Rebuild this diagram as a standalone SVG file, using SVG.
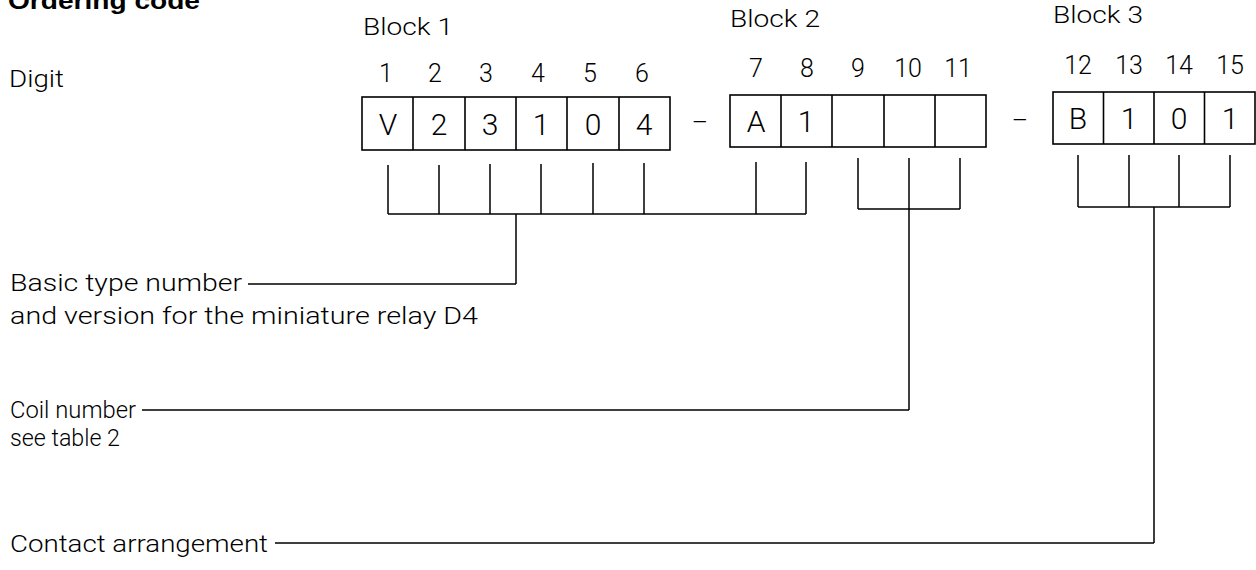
<svg xmlns="http://www.w3.org/2000/svg" width="1256" height="570" viewBox="0 0 1256 570">
<style>
.t{font-family:Roboto,"Liberation Sans",Arial,sans-serif;font-weight:300;font-size:24px;fill:#000}
.b{font-family:"Liberation Sans",Arial,sans-serif;font-weight:bold}
.d{font-size:25px;text-anchor:middle}
.c{font-size:30px;text-anchor:middle}
.box{fill:none;stroke:#000;stroke-width:1.6}
.ln{fill:none;stroke:#000;stroke-width:1.5}
</style>
<rect width="1256" height="570" fill="#fff"/>
<g id="title"><text class="t b" x="8" y="9" textLength="192" lengthAdjust="spacingAndGlyphs">Ordering code</text></g>
<g id="digit-label"><text class="t" x="9" y="87" textLength="55" lengthAdjust="spacingAndGlyphs">Digit</text></g>
<g id="block1">
<text class="t" x="363" y="35" textLength="90" lengthAdjust="spacingAndGlyphs">Block 1</text>
<text class="t d" x="386" y="82">1</text><text class="t d" x="435" y="82">2</text><text class="t d" x="486" y="82">3</text><text class="t d" x="538" y="82">4</text><text class="t d" x="590" y="82">5</text><text class="t d" x="642" y="82">6</text>
<rect class="box" x="362" y="97" width="308" height="53"/>
<path class="box" d="M413,97V150M465,97V150M516,97V150M567,97V150M619,97V150"/>
<text class="t c" x="388" y="135">V</text><text class="t c" x="439" y="135">2</text><text class="t c" x="490" y="135">3</text><text class="t c" x="541" y="135">1</text><text class="t c" x="593" y="135">0</text><text class="t c" x="644" y="135">4</text>
</g>
<g id="dash1"><text class="t d" x="700" y="131">–</text></g>
<g id="block2">
<text class="t" x="730" y="27" textLength="90" lengthAdjust="spacingAndGlyphs">Block 2</text>
<text class="t d" x="756" y="77">7</text><text class="t d" x="807" y="77">8</text><text class="t d" x="858" y="77">9</text><text class="t d" x="908" y="77">10</text><text class="t d" x="958" y="77">11</text>
<rect class="box" x="730" y="95" width="256" height="52"/>
<path class="box" d="M781,95V147M832,95V147M884,95V147M935,95V147"/>
<text class="t c" x="756" y="132">A</text><text class="t c" x="806" y="132">1</text>
</g>
<g id="dash2"><text class="t d" x="1020" y="129">–</text></g>
<g id="block3">
<text class="t" x="1053" y="23" textLength="90" lengthAdjust="spacingAndGlyphs">Block 3</text>
<text class="t d" x="1078" y="74">12</text><text class="t d" x="1129" y="74">13</text><text class="t d" x="1179" y="74">14</text><text class="t d" x="1230" y="74">15</text>
<rect class="box" x="1053" y="92" width="202" height="52"/>
<path class="box" d="M1103.5,92V144M1154,92V144M1204.5,92V144"/>
<text class="t c" x="1078" y="129">B</text><text class="t c" x="1129" y="129">1</text><text class="t c" x="1179" y="129">0</text><text class="t c" x="1230" y="129">1</text>
</g>
<g id="label-basic">
<text class="t" x="10" y="291" textLength="232" lengthAdjust="spacingAndGlyphs">Basic type number</text>
<text class="t" x="10" y="324" textLength="468" lengthAdjust="spacingAndGlyphs">and version for the miniature relay D4</text>
</g>
<g id="label-coil">
<text class="t" x="10" y="418" textLength="126" lengthAdjust="spacingAndGlyphs">Coil number</text>
<text class="t" x="10" y="446" textLength="110" lengthAdjust="spacingAndGlyphs">see table 2</text>
</g>
<g id="label-contact">
<text class="t" x="10" y="552" textLength="258" lengthAdjust="spacingAndGlyphs">Contact arrangement</text>
</g>
<g id="connectors" class="ln">
<path class="ln" d="M388,165V214M439,165V214M490,164V214M541,164V214M593,163V214M644,163V214M756,162V214M806,162V214M388,214H806M516,214V284M248,284H516"/>
<path class="ln" d="M858,158V209M909,158V410M960,158V209M858,209H960M142,410H909"/>
<path class="ln" d="M1078,155V207M1129,155V207M1179,155V207M1230,155V207M1078,207H1230M1154,207V543M275,543H1154"/>
</g>
</svg>
